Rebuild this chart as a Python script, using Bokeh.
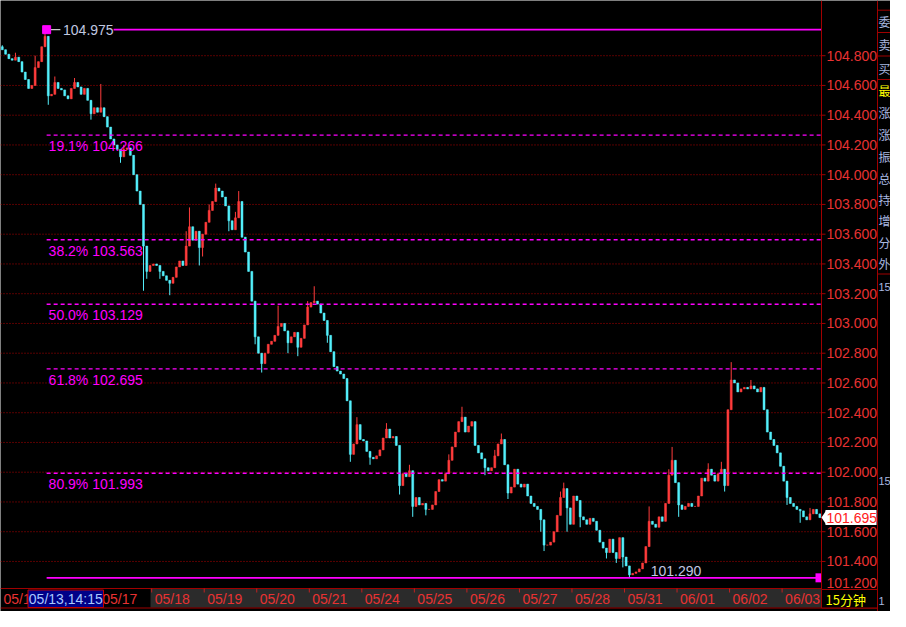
import numpy as np
from bokeh.plotting import figure
from bokeh.models import Range1d, ColumnDataSource
from bokeh.core.properties import value
from bokeh.embed import file_html
from bokeh.resources import INLINE

# ---------------- data (15-minute bars) ----------------
first_open = 104.86
closes = [
    104.84, 104.81, 104.78, 104.77, 104.79, 104.76, 104.69, 104.64, 104.58, 104.60,
    104.72, 104.76, 104.86, 104.93, 104.53, 104.54, 104.62, 104.58, 104.57, 104.53,
    104.51, 104.58, 104.62, 104.59, 104.54, 104.58, 104.50, 104.41, 104.45, 104.42,
    104.45, 104.39, 104.32, 104.24, 104.20, 104.17, 104.12, 104.17, 104.18, 104.13,
    104.00, 103.89, 103.80, 103.52, 103.35, 103.39, 103.40, 103.39, 103.35, 103.32,
    103.29, 103.27, 103.31, 103.38, 103.42, 103.39, 103.52, 103.65, 103.56, 103.62,
    103.51, 103.60, 103.68, 103.76, 103.82, 103.91, 103.89, 103.85, 103.79, 103.69,
    103.63, 103.71, 103.82, 103.58, 103.48, 103.35, 103.15, 102.91, 102.80, 102.73,
    102.80, 102.86, 102.88, 102.92, 102.98, 103.00, 102.95, 102.87, 102.91, 102.94,
    102.84, 102.90, 102.99, 103.11, 103.14, 103.15, 103.13, 103.07, 103.02, 102.92,
    102.81, 102.71, 102.68, 102.66, 102.63, 102.48, 102.12, 102.19, 102.32, 102.22,
    102.21, 102.14, 102.10, 102.09, 102.11, 102.15, 102.23, 102.29, 102.23, 102.24,
    102.18, 101.91, 101.99, 101.97, 102.01, 101.77, 101.83, 101.78, 101.79, 101.75,
    101.75, 101.78, 101.87, 101.95, 101.94, 101.99, 102.08, 102.17, 102.27, 102.34,
    102.37, 102.27, 102.31, 102.34, 102.18, 102.13, 102.09, 102.03, 102.01, 102.03,
    102.11, 102.19, 102.22, 102.05, 101.86, 101.90, 102.02, 101.92, 101.90, 101.92,
    101.84, 101.79, 101.77, 101.75, 101.68, 101.51, 101.51, 101.53, 101.60, 101.71,
    101.83, 101.89, 101.76, 101.65, 101.84, 101.81, 101.70, 101.68, 101.65, 101.69,
    101.67, 101.61, 101.53, 101.49, 101.46, 101.55, 101.46, 101.42, 101.56, 101.43,
    101.37, 101.31, 101.32, 101.33, 101.35, 101.39, 101.50, 101.67, 101.65, 101.63,
    101.70, 101.67, 101.79, 101.98, 102.08, 101.93, 101.78, 101.75, 101.77, 101.79,
    101.77, 101.77, 101.84, 101.96, 101.94, 102.02, 101.98, 101.94, 101.99, 102.02,
    101.91, 102.42, 102.62, 102.60, 102.54, 102.56, 102.57, 102.56, 102.58, 102.56,
    102.54, 102.57, 102.42, 102.27, 102.22, 102.18, 102.13, 102.04, 101.94, 101.83,
    101.79, 101.77, 101.75, 101.74, 101.70, 101.68, 101.72, 101.75, 101.72, 101.695,
]
spike_highs = {0: 104.87, 4: 104.82, 10: 104.80, 13: 104.975, 16: 104.66, 22: 104.65,
               30: 104.61, 37: 104.20, 42: 103.84, 56: 103.62, 57: 103.78, 63: 103.80,
               65: 103.94, 71: 103.75, 72: 103.89, 84: 103.12, 93: 103.15, 95: 103.25,
               108: 102.37, 117: 102.33, 124: 102.05, 136: 102.12, 140: 102.44,
               150: 102.15, 152: 102.26, 170: 101.87, 171: 101.93, 197: 101.77,
               203: 102.02, 204: 102.17, 215: 102.06, 219: 102.07, 222: 102.74,
               228: 102.62, 246: 101.76}
spike_lows = {14: 104.47, 27: 104.37, 36: 104.08, 43: 103.22, 44: 103.30, 48: 103.30,
              51: 103.19, 60: 103.39, 61: 103.45, 69: 103.62, 77: 102.86, 79: 102.67,
              87: 102.80, 90: 102.78, 99: 102.87, 106: 102.07, 112: 102.05, 121: 101.85,
              125: 101.70, 129: 101.71, 147: 101.98, 154: 101.82, 164: 101.60,
              165: 101.47, 172: 101.60, 176: 101.63, 184: 101.42, 187: 101.39,
              189: 101.36, 191: 101.29, 196: 101.46, 206: 101.70, 220: 101.87,
              239: 101.78, 243: 101.66}

day_labels = ["05/13", "05/17", "05/18", "05/19", "05/20", "05/21", "05/24", "05/25",
              "05/26", "05/27", "05/28", "05/31", "06/01", "06/02", "06/03"]
day_starts = [-0.55, 29.5, 45.5, 61.5, 77.5, 93.5, 109.5, 125.5,
              141.5, 157.5, 173.5, 189.5, 205.5, 221.5, 237.5]
price_ticks = [101.4, 101.6, 101.8, 102.0, 102.2, 102.4, 102.6, 102.8, 103.0,
               103.2, 103.4, 103.6, 103.8, 104.0, 104.2, 104.4, 104.6, 104.8]
clamped_tick = 101.2
fib_pcts = ["19.1%", "38.2%", "50.0%", "61.8%", "80.9%"]
fib_values = [104.266, 103.563, 103.129, 102.695, 101.993]
swing_high = 104.975
swing_low = 101.290
last_price = 101.695
cursor_text = "05/13,14:15"
period_text = "15分钟"
side_labels = ["委", "卖", "买", "最", "涨", "涨", "振", "总", "持", "增", "分", "外"]
side_tail = ["15", "15", "1"]

# ---------------- derived OHLC ----------------
n = len(closes)
xs = list(range(n))
opens = [first_open] + closes[:-1]
highs = [max(o, c) for o, c in zip(opens, closes)]
lows = [min(o, c) for o, c in zip(opens, closes)]
for k, v in spike_highs.items():
    highs[k] = max(highs[k], v)
for k, v in spike_lows.items():
    lows[k] = min(lows[k], v)
UP, DOWN = "#ff3c3c", "#54f0fc"
colors = [UP if c >= o else DOWN for o, c in zip(opens, closes)]
src = ColumnDataSource(dict(x=xs, top=[max(o, c) for o, c in zip(opens, closes)],
                            bottom=[min(o, c) for o, c in zip(opens, closes)],
                            hi=highs, lo=lows, color=colors))

# ---------------- geometry ----------------
W, H = 890, 611
CW, CH = 821, 587            # price pane size in pixels
X0, XC = -0.55, 249.5        # bar-index range of the price pane
Y1, YC = 105.171, 101.225    # price range of the price pane
kx = (XC - X0) / CW
ky = (Y1 - YC) / CH
X1 = X0 + W * kx
Y0 = Y1 - H * ky

def fx(px):
    return X0 + px * kx

def fy(py):
    return Y1 - py * ky

p = figure(width=W, height=H, x_range=Range1d(X0, X1), y_range=Range1d(Y0, Y1),
           output_backend="svg", toolbar_location=None, x_axis_location=None,
           y_axis_location=None, min_border=0, background_fill_color="black",
           border_fill_color="black", outline_line_color=None)
p.xgrid.visible = False
p.ygrid.visible = False

DARKRED = "#a00000"
AXRED = "#e83232"
FONT = value("Liberation Sans")
CJK = value("Noto Sans CJK SC")
MAG = "#ff00ff"

# date strip
p.quad(left=[fx(150)], right=[XC], top=[fy(588.5)], bottom=[fy(607)],
       fill_color="#2b2b2b", line_color=None)
p.segment(x0=[fx(0)], y0=[fy(607.5)], x1=[fx(877)], y1=[fy(607.5)], line_color=DARKRED)
p.segment(x0=[X0], y0=[fy(588)], x1=[XC], y1=[fy(588)], line_color=DARKRED)
p.segment(x0=day_starts[2:], y0=[fy(588)] * len(day_starts[2:]),
          x1=day_starts[2:], y1=[fy(592)] * len(day_starts[2:]), line_color="#c02020")
p.text(x=day_starts, y=[fy(598.5)] * len(day_starts), text=day_labels, x_offset=3,
       text_align="left", text_baseline="middle", text_font=FONT,
       text_font_size="14px", text_color=AXRED)

# price grid
p.segment(x0=[X0] * len(price_ticks), y0=price_ticks, x1=[XC] * len(price_ticks),
          y1=price_ticks, line_color="#b00000", line_dash="1 2", line_width=1)

# candles
p.segment(x0="x", y0="lo", x1="x", y1="hi", line_color="color", line_width=1, source=src)
p.vbar(x="x", width=0.6, top="top", bottom="bottom", fill_color="color",
       line_color="color", line_width=0.5, source=src)

# fibonacci retracement
hi_idx = int(np.argmax(highs))
lo_idx = int(np.argmin(lows))
start = hi_idx + 0.5
p.segment(x0=[start] * len(fib_values), y0=fib_values, x1=[XC] * len(fib_values),
          y1=fib_values, line_color=MAG, line_dash="4 3", line_width=1.4)
p.text(x=[start + 0.6] * len(fib_values), y=fib_values,
       text=[f"{a} {v:.3f}" for a, v in zip(fib_pcts, fib_values)],
       text_baseline="top", text_align="left", y_offset=3,
       text_font=FONT, text_font_size="14px", text_color=MAG)

# swing high
p.segment(x0=[start + 20.4], y0=[swing_high], x1=[XC], y1=[swing_high],
          line_color=MAG, line_width=1.6)
p.segment(x0=[start + 1.2], y0=[swing_high], x1=[start + 4.2], y1=[swing_high],
          line_color="#c8c8c8", line_width=1.2)
p.text(x=[start + 5.0], y=[swing_high], text=[f"{swing_high:.3f}"], text_baseline="middle",
       text_font=FONT, text_font_size="14px", text_color="#c0c8e0")
p.scatter(x=[start], y=[swing_high], marker="square", size=8, fill_color=MAG,
          line_color=MAG)

# swing low
p.segment(x0=[start], y0=[swing_low], x1=[XC], y1=[swing_low], line_color=MAG,
          line_width=1.6)
p.text(x=[lo_idx + 6.5], y=[swing_low], text=[f"{swing_low:.3f}"], text_baseline="bottom",
       y_offset=-2, text_font=FONT, text_font_size="14px", text_color="#c0c8e0")
p.quad(left=[fx(CW - 6)], right=[XC], top=[swing_low + 4.5 * ky],
       bottom=[swing_low - 4.5 * ky], fill_color=MAG, line_color=None)

# right price axis
p.segment(x0=[XC], y0=[fy(0)], x1=[XC], y1=[fy(589)], line_color=DARKRED)
p.segment(x0=[XC] * len(price_ticks), y0=price_ticks, x1=[fx(CW + 4)] * len(price_ticks),
          y1=price_ticks, line_color=DARKRED)
p.text(x=[fx(CW + 5)] * len(price_ticks), y=price_ticks,
       text=[f"{t:.3f}" for t in price_ticks], text_align="left", text_baseline="middle",
       text_font=FONT, text_font_size="14px", text_color=AXRED)
p.text(x=[fx(CW + 5)], y=[fy(582)], text=[f"{clamped_tick:.3f}"], text_align="left",
       text_baseline="middle", text_font=FONT, text_font_size="14px", text_color=AXRED)

# last price marker
hb = 7.5 * ky
p.patch(x=[XC, fx(CW + 5), fx(CW + 5)], y=[last_price, last_price + hb, last_price - hb],
        fill_color="white", line_color=None)
p.quad(left=[fx(CW + 4)], right=[fx(CW + 55)], top=[last_price + hb],
       bottom=[last_price - hb], fill_color="white", line_color=None)
p.text(x=[fx(CW + 5)], y=[last_price], text=[f"{last_price:.3f}"], text_align="left",
       text_baseline="middle", text_font=FONT, text_font_size="14px",
       text_color="#ff2020")

# cursor date box
p.quad(left=[fx(27.5)], right=[fx(103)], top=[fy(589.5)], bottom=[fy(607)],
       fill_color="#000088", line_color="#c00000", line_width=1)
p.text(x=[fx(65.3)], y=[fy(598.5)], text=[cursor_text], text_align="center",
       text_baseline="middle", text_font=FONT, text_font_size="14px",
       text_color="#a8c8ff")

# period box
p.quad(left=[XC], right=[fx(877)], top=[fy(589)], bottom=[fy(607.5)],
       fill_color="black", line_color=DARKRED, line_width=1)
p.text(x=[fx(825)], y=[fy(598.5)], text=[period_text], text_align="left",
       text_baseline="middle", text_font=CJK, text_font_size="13px",
       text_color="#ffff00")

# right info column (cut off in the screenshot)
p.segment(x0=[fx(877)], y0=[fy(0)], x1=[fx(877)], y1=[fy(611)], line_color=DARKRED)
sep_y = [9.7, 32, 55.5, 79, 273.5]
p.segment(x0=[fx(877)] * len(sep_y), y0=[fy(v) for v in sep_y], x1=[X1] * len(sep_y),
          y1=[fy(v) for v in sep_y], line_color=DARKRED)
side_y = [20.5, 44, 67.5, 90, 112, 134, 156, 178, 199, 220, 242, 263]
p.text(x=[fx(878)] * len(side_labels), y=[fy(v) for v in side_y], text=side_labels,
       text_align="left", text_baseline="middle", text_font=CJK, text_font_size="12px",
       text_color=["#ffff00" if c == "最" else "#a8b8e0" for c in side_labels])
tail_y = [286, 480, 600]
p.text(x=[fx(878)] * len(side_tail), y=[fy(v) for v in tail_y], text=side_tail,
       text_align="left", text_baseline="middle", text_font=FONT, text_font_size="11px",
       text_color="#a8b8e0")

open("out.html", "w").write(file_html(p, INLINE))
